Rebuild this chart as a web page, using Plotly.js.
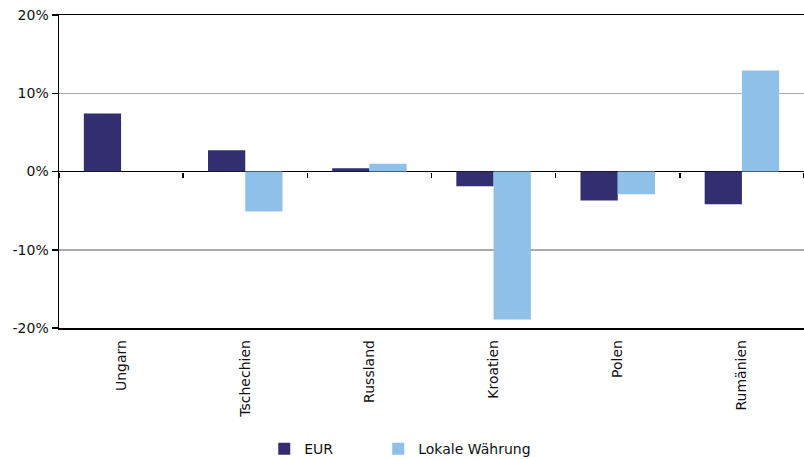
<!DOCTYPE html>
<html>
<head>
<meta charset="utf-8">
<script src="https://cdn.plot.ly/plotly-3.0.1.min.js"></script>
<style>html,body{margin:0;padding:0;background:#fff;}#chart{width:804px;height:459px;}</style>
</head>
<body>
<div id="chart"></div>
<script>
const categories = ["Ungarn", "Tschechien", "Russland", "Kroatien", "Polen", "Rumänien"];
const eurValues = [7.4, 2.7, 0.4, -1.9, -3.7, -4.2];
const localValues = [null, -5.1, 1.0, -18.9, -2.9, 12.9];
const seriesNames = ["EUR", "Lokale Währung"];
const yTicks = [-20, -10, 0, 10, 20];
const yTickText = ["-20%", "-10%", "0%", "10%", "20%"];

const fontFam = "DejaVu Sans, sans-serif";

const traces = [
  {type: "bar", name: seriesNames[0], x: categories, y: eurValues,
   marker: {color: "#332e6f"}, hoverinfo: "x+y", legend: "legend"},
  {type: "bar", name: seriesNames[1], x: categories, y: localValues,
   marker: {color: "#8fc0e8"}, hoverinfo: "x+y", legend: "legend2"},
  {type: "bar", x: categories, y: categories.map(() => null), xaxis: "x2",
   showlegend: false, hoverinfo: "skip"}
];

const legendCommon = {
  orientation: "h", yanchor: "middle", y: -0.387,
  font: {family: fontFam, size: 14, color: "#111"},
  bgcolor: "rgba(0,0,0,0)", itemwidth: 30
};

const layout = {
  width: 804, height: 459,
  margin: {l: 59, r: 0, t: 15, b: 131, autoexpand: false},
  paper_bgcolor: "#fff", plot_bgcolor: "#fff",
  font: {family: fontFam, size: 13, color: "#111"},
  barmode: "group", bargap: 0.4, bargroupgap: 0,
  xaxis: {
    type: "category", categoryarray: categories, range: [-0.5, 5.5],
    showline: true, linecolor: "#000", linewidth: 1.5, mirror: true,
    ticks: "outside", ticklen: 5, tickcolor: "rgba(0,0,0,0)",
    showgrid: false, zeroline: false, automargin: false,
    tickangle: -90, tickfont: {family: fontFam, size: 14, color: "#111"}
  },
  xaxis2: {
    type: "category", categoryarray: categories, range: [-0.5, 5.5],
    overlaying: "x", anchor: "free", position: 0.5,
    ticks: "outside", tickson: "boundaries", ticklen: 5, tickwidth: 1.5, tickcolor: "#000",
    showticklabels: false, showline: false, showgrid: false, zeroline: false
  },
  yaxis: {
    range: [-20, 20], tickvals: yTicks, ticktext: yTickText,
    showline: true, linecolor: "#000", linewidth: 1.5, automargin: false,
    ticks: "outside", ticklen: 6, tickwidth: 1.5, tickcolor: "#000",
    showgrid: true, gridcolor: "#a9a9ae", gridwidth: 1.5,
    zeroline: true, zerolinecolor: "#000", zerolinewidth: 1.5,
    tickfont: {family: fontFam, size: 14, color: "#111"}
  },
  showlegend: true,
  legend: Object.assign({}, legendCommon, {x: 0.2755, xanchor: "left"}),
  legend2: Object.assign({}, legendCommon, {x: 0.4285, xanchor: "left"})
};

Plotly.newPlot("chart", traces, layout, {displayModeBar: false, staticPlot: true});
</script>
</body>
</html>
